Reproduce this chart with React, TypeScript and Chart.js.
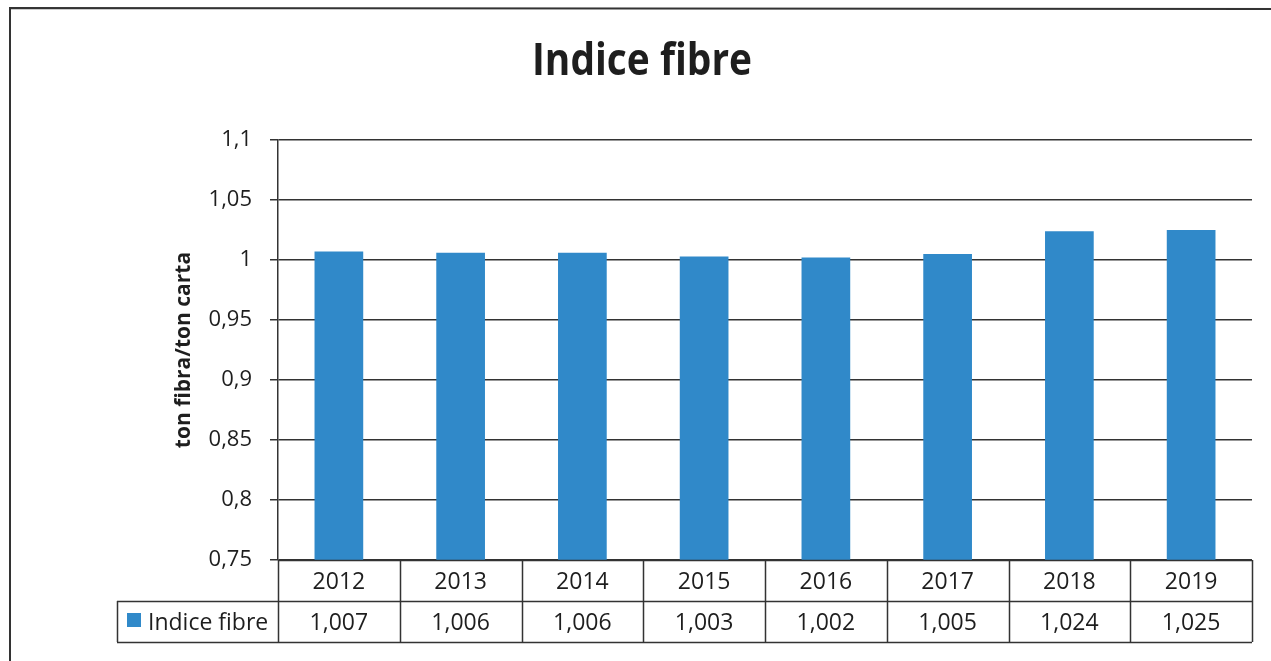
import React, { useEffect, useRef } from "react";
import { Chart, registerables } from "chart.js";

Chart.register(...registerables);

const categories = ["2012", "2013", "2014", "2015", "2016", "2017", "2018", "2019"];
const values = [1.007, 1.006, 1.006, 1.003, 1.002, 1.005, 1.024, 1.025];
const seriesName = "Indice fibre";
const chartTitle = "Indice fibre";
const yAxisTitle = "ton fibra/ton carta";
const yMin = 0.75;
const yMax = 1.1;
const yStep = 0.05;

const BAR_COLOR = "#3089c9";
const TEXT_COLOR = "#1e1e1e";
const LINE_COLOR = "#333333";
const FONT = "'Open Sans', 'Noto Sans', sans-serif";

const fmtTick = (v: number) => {
  let s = Number(v).toFixed(2);
  s = s.replace(/0+$/, "").replace(/\.$/, "");
  return s.replace(".", ",");
};
const fmtValue = (v: number) => v.toFixed(3).replace(".", ",");

const decorPlugin = {
  id: "decor",
  afterDraw(chart: any) {
    const ctx = chart.ctx as CanvasRenderingContext2D;
    const area = chart.chartArea;
    const xs = chart.scales.x;
    const n = categories.length;
    const left = xs.left;
    const right = xs.right;
    const w = (right - left) / n;
    const top = area.bottom;
    const row1 = top + 41;
    const row2 = top + 82;
    const legendLeft = 117;

    ctx.save();
    // outer frame
    ctx.strokeStyle = "#333";
    ctx.lineWidth = 2;
    ctx.beginPath();
    ctx.moveTo(10, 661);
    ctx.lineTo(10, 8);
    ctx.lineTo(1271, 9);
    ctx.stroke();

    // title
    ctx.fillStyle = TEXT_COLOR;
    ctx.font = `bold 45px ${FONT}`;
    ctx.textBaseline = "alphabetic";
    ctx.textAlign = "center";
    const tw = ctx.measureText(chartTitle).width;
    const sx = 220 / tw;
    ctx.save();
    ctx.translate(642, 75);
    ctx.scale(sx, 1);
    ctx.fillText(chartTitle, 0, 0);
    ctx.restore();

    // data table lines
    ctx.strokeStyle = LINE_COLOR;
    ctx.lineWidth = 1.5;
    ctx.beginPath();
    for (let i = 0; i <= n; i++) {
      const x = Math.round(left + i * w) + 0.5;
      ctx.moveTo(x, top);
      ctx.lineTo(x, row2);
    }
    ctx.moveTo(left, top + 0.5);
    ctx.lineTo(right, top + 0.5);
    ctx.moveTo(legendLeft, row1 + 0.5);
    ctx.lineTo(right, row1 + 0.5);
    ctx.moveTo(legendLeft, row2 + 0.5);
    ctx.lineTo(right, row2 + 0.5);
    ctx.moveTo(legendLeft + 0.5, row1);
    ctx.lineTo(legendLeft + 0.5, row2);
    ctx.stroke();

    // table text
    ctx.font = `23px ${FONT}`;
    ctx.fillStyle = TEXT_COLOR;
    ctx.textAlign = "center";
    ctx.textBaseline = "alphabetic";
    categories.forEach((c, i) => {
      const cx = xs.getPixelForValue(i);
      ctx.fillText(c, cx, top + 29);
      ctx.fillText(fmtValue(values[i]), cx, row1 + 29);
    });

    // legend key
    ctx.fillStyle = BAR_COLOR;
    ctx.fillRect(127, row1 + 12, 14, 14);
    ctx.fillStyle = TEXT_COLOR;
    ctx.textAlign = "left";
    ctx.fillText(seriesName, 148, row1 + 29);
    ctx.restore();
  },
};

export default function App() {
  const ref = useRef<HTMLCanvasElement | null>(null);
  useEffect(() => {
    if (!ref.current) return;
    const chart = new Chart(ref.current, {
      type: "bar",
      data: {
        labels: categories,
        datasets: [
          {
            label: seriesName,
            data: values,
            backgroundColor: BAR_COLOR,
            borderWidth: 0,
            categoryPercentage: 1,
            barPercentage: 0.4,
          },
        ],
      },
      options: {
        animation: false,
        responsive: false,
        maintainAspectRatio: false,
        layout: { padding: { top: 140, bottom: 101, left: 167, right: 19 } },
        plugins: {
          legend: { display: false },
          title: { display: false },
          tooltip: { enabled: false },
        },
        scales: {
          x: { display: false },
          y: {
            min: yMin,
            max: yMax,
            afterFit: (s: any) => {
              s.width = 111;
            },
            ticks: {
              stepSize: yStep,
              padding: 18,
              color: TEXT_COLOR,
              font: { family: FONT, size: 22 },
              callback: (v: any) => fmtTick(Number(v)),
            },
            grid: { color: LINE_COLOR, lineWidth: 1.5, tickLength: 8 },
            border: { color: LINE_COLOR, width: 1.5 },
            title: {
              display: true,
              text: yAxisTitle,
              color: TEXT_COLOR,
              font: { family: FONT, size: 21, weight: "bold" },
              padding: { top: 4, bottom: 4 },
            },
          },
        },
      },
      plugins: [decorPlugin],
    });
    return () => chart.destroy();
  }, []);
  return (
    <div style={{ position: "fixed", left: 0, top: 0, width: 1271, height: 661, background: "#fff" }}>
      <canvas ref={ref} width={1271} height={661} style={{ width: 1271, height: 661, display: "block" }} />
    </div>
  );
}
